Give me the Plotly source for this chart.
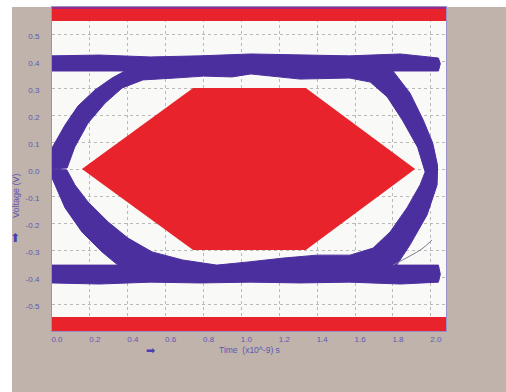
import plotly.graph_objects as go

# ---------------- data ----------------
x_ticks = [0.0, 0.2, 0.4, 0.6, 0.8, 1.0, 1.2, 1.4, 1.6, 1.8, 2.0]
x_tick_text = ["0.0", "0.2", "0.4", "0.6", "0.8", "1.0", "1.2", "1.4", "1.6", "1.8", "2.0"]
y_ticks = [0.5, 0.4, 0.3, 0.2, 0.1, 0.0, -0.1, -0.2, -0.3, -0.4, -0.5]
y_tick_text = ["0.5", "0.4", "0.3", "0.2", "0.1", "0.0", "-0.1", "-0.2", "-0.3", "-0.4", "-0.5"]

# eye mask (hexagon)
mask_x = [0.158, 0.745, 1.34, 1.917, 1.34, 0.745, 0.158]
mask_y = [0.0, 0.30, 0.30, 0.0, -0.30, -0.30, 0.0]

# upper / lower limit bands
top_limit_x = [0.0, 2.08, 2.08, 0.0, 0.0]
top_limit_y = [0.548, 0.548, 0.593, 0.593, 0.548]
top_edge_y = [0.593, 0.593, 0.6, 0.6, 0.593]
bot_limit_x = [0.0, 2.08, 2.08, 0.0, 0.0]
bot_limit_y = [-0.6, -0.6, -0.548, -0.548, -0.6]

# upper half of the eye traces (top rail + both transitions)
upper_band_x = [0.0, 0.25, 0.52, 0.78, 1.05, 1.31, 1.57, 1.84, 2.00, 2.04,
                2.05, 2.04, 1.80,
                1.89, 1.96, 2.01, 2.035, 2.035,
                1.97, 1.93, 1.85, 1.77, 1.68, 1.57,
                1.31, 1.17, 1.05, 0.95, 0.80, 0.65, 0.48,
                0.37, 0.28, 0.19, 0.12, 0.08,
                0.0, 0.0, 0.069, 0.137, 0.227, 0.317, 0.385,
                0.0]
upper_band_y = [0.419, 0.422, 0.415, 0.419, 0.426, 0.422, 0.419, 0.426, 0.415, 0.411,
                0.39, 0.363, 0.363,
                0.281, 0.181, 0.096, 0.015, -0.011,
                -0.011, 0.081, 0.181, 0.267, 0.322, 0.337,
                0.333, 0.344, 0.352, 0.341, 0.344, 0.337, 0.330,
                0.300, 0.244, 0.170, 0.081, 0.004,
                0.0, 0.078, 0.163, 0.233, 0.293, 0.337, 0.363,
                0.363]

# lower half of the eye traces (bottom rail + both transitions)
lower_band_x = [0.0, 0.25, 0.52, 0.78, 1.05, 1.31, 1.57, 1.84, 2.04,
                2.05, 2.04, 1.82,
                1.89, 1.98, 2.033, 2.035,
                1.97, 1.943, 1.874, 1.785, 1.695, 1.573,
                1.40, 1.22, 1.04, 0.87, 0.69, 0.528,
                0.401, 0.296, 0.190, 0.121, 0.079,
                0.0, 0.0, 0.069, 0.158, 0.264, 0.348,
                0.0]
lower_band_y = [-0.422, -0.426, -0.419, -0.422, -0.419, -0.422, -0.419, -0.426, -0.419,
                -0.39, -0.356, -0.356,
                -0.281, -0.170, -0.059, -0.011,
                -0.011, -0.059, -0.144, -0.233, -0.293, -0.319,
                -0.319, -0.330, -0.344, -0.356, -0.337, -0.307,
                -0.256, -0.196, -0.122, -0.059, -0.004,
                0.0, -0.033, -0.144, -0.233, -0.307, -0.356,
                -0.356]

# single stray trace in the lower right
stray_x = [1.80, 1.89, 1.953, 2.006]
stray_y = [-0.356, -0.322, -0.296, -0.263]

# ---------------- styling ----------------
RED = "#e8232b"
PURPLE = "#4b2f9e"
TXT = "#6157b5"
GRAY_BG = "#bfb3ab"
FONT = "Liberation Sans"

fig = go.Figure()

fig.add_trace(go.Scatter(x=top_limit_x, y=top_limit_y, fill="toself", fillcolor=RED,
                         mode="lines", line=dict(width=0, color=RED), hoverinfo="skip"))
fig.add_trace(go.Scatter(x=top_limit_x, y=top_edge_y, fill="toself", fillcolor="#9a2a8a",
                         mode="lines", line=dict(width=0, color="#9a2a8a"), hoverinfo="skip"))
fig.add_trace(go.Scatter(x=bot_limit_x, y=bot_limit_y, fill="toself", fillcolor=RED,
                         mode="lines", line=dict(width=0, color=RED), hoverinfo="skip"))
fig.add_trace(go.Scatter(x=mask_x, y=mask_y, fill="toself", fillcolor=RED,
                         mode="lines", line=dict(width=0, color=RED), hoverinfo="skip"))
fig.add_trace(go.Scatter(x=upper_band_x, y=upper_band_y, fill="toself", fillcolor=PURPLE,
                         mode="lines", line=dict(width=1, color=PURPLE), hoverinfo="skip"))
fig.add_trace(go.Scatter(x=lower_band_x, y=lower_band_y, fill="toself", fillcolor=PURPLE,
                         mode="lines", line=dict(width=1, color=PURPLE), hoverinfo="skip"))
fig.add_trace(go.Scatter(x=stray_x, y=stray_y, mode="lines",
                         line=dict(width=1, color="#7d7a8c", shape="spline"), hoverinfo="skip"))

axis_common = dict(
    showgrid=True, gridcolor="#b9b9b9", gridwidth=1, griddash="3px,3px",
    zeroline=False, showline=True, linecolor="#9a90c8", linewidth=1, mirror=True,
    ticks="", tickfont=dict(family=FONT, size=8, color=TXT),
)

fig.update_xaxes(range=[0, 2.08], tickvals=x_ticks, ticktext=x_tick_text,
                 ticklabelshift=5, ticklabelstandoff=0, **axis_common)
fig.update_yaxes(range=[-0.6, 0.6], tickvals=y_ticks, ticktext=y_tick_text,
                 ticklabelshift=2, ticklabelstandoff=10, **axis_common)

fig.update_layout(
    width=506, height=392,
    margin=dict(l=52, r=60, t=7, b=61),
    paper_bgcolor=GRAY_BG, plot_bgcolor="#f9f9f7",
    showlegend=False,
    font=dict(family=FONT, color=TXT),
    shapes=[
        dict(type="rect", xref="paper", yref="paper", x0=-0.2, x1=1.3, y0=1.0, y1=1.06,
             fillcolor="white", line=dict(width=0), layer="below"),
        dict(type="rect", xref="paper", yref="paper", x0=-0.2, x1=-0.1015, y0=-0.3, y1=1.06,
             fillcolor="white", line=dict(width=0), layer="below"),
    ],
    annotations=[
        dict(text="Time  (x10^-9) s", xref="paper", yref="paper", x=0.5, y=-0.059,
             xanchor="center", yanchor="middle", showarrow=False,
             font=dict(family=FONT, size=8.5, color=TXT)),
        dict(text="➡", xref="paper", yref="paper", x=0.251, y=-0.059,
             xanchor="center", yanchor="middle", showarrow=False,
             font=dict(family="DejaVu Sans", size=11, color="#4a3fb0")),
        dict(text="Voltage (V)", xref="paper", yref="paper", x=-0.0914, y=0.42,
             xanchor="center", yanchor="middle", textangle=-90, showarrow=False,
             font=dict(family=FONT, size=9, color=TXT)),
        dict(text="⬆", xref="paper", yref="paper", x=-0.094, y=0.287,
             xanchor="center", yanchor="middle", showarrow=False,
             font=dict(family="DejaVu Sans", size=12, color="#4a3fb0")),
    ],
)

fig.write_html("out.html", config={"displayModeBar": False},
               post_script="document.body.style.margin='0';")
